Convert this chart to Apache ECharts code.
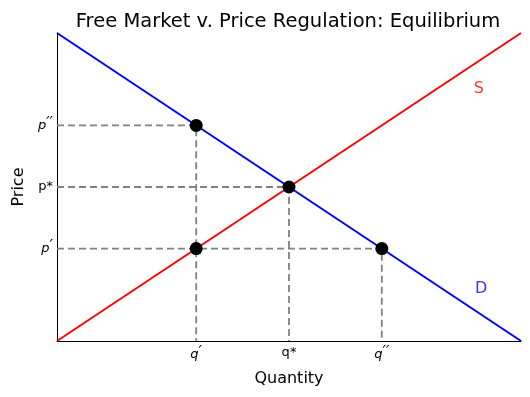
<!DOCTYPE html>
<html>
<head>
<meta charset="utf-8">
<script src="https://cdn.jsdelivr.net/npm/echarts@6/dist/echarts.min.js"></script>
<style>
  html, body { margin: 0; padding: 0; background: #fff; }
  #chart { width: 530px; height: 397px; }
</style>
</head>
<body>
<div id="chart"></div>
<script>
// data
const supplyLine = [[0, 0], [10, 10]];
const demandLine = [[0, 10], [10, 0]];
const points = [[3, 7], [5, 5], [3, 3], [7, 3]];
const guideLines = [
    [[0, 7], [3, 7], [3, 0]],
    [[0, 5], [5, 5], [5, 0]],
    [[0, 3], [7, 3], [7, 0]]
];
const xTickValues = [3, 5, 7];
const xTickLabels = ['{i|q}{pr|′}', 'q*', '{i|q}{pr|′′}'];
const yTickValues = [3, 5, 7];
const yTickLabels = ['{i|p}{pr|′}', 'p*', '{i|p}{pr|′′}'];
const curveLabels = [
    { name: 'S', pos: [9.09, 8.18], color: '#ff0000' },
    { name: 'D', pos: [9.14, 1.69], color: '#0000ff' }
];

const font = 'DejaVu Sans';
const chart = echarts.init(document.getElementById('chart'));

const labelRich = {
    i: { fontStyle: 'italic', fontFamily: font, fontSize: 13, color: '#000' },
    pr: { fontStyle: 'italic', fontFamily: font, fontSize: 15, color: '#000', padding: [0, 0, 3, 0] }
};

const guideSeries = guideLines.map(function (d) {
    return {
        type: 'line',
        data: d,
        symbol: 'none',
        z: 1,
        lineStyle: { color: '#808080', width: 1.8, type: [7, 4] }
    };
});

const option = {
    animation: false,
    textStyle: { fontFamily: font },
    title: {
        text: 'Free Market v. Price Regulation: Equilibrium',
        left: 283,
        top: 7,
        textAlign: 'center',
        textStyle: { fontFamily: font, fontSize: 19.5, fontWeight: 'normal', color: '#000' }
    },
    grid: { left: 57, right: 9, top: 33, bottom: 56 },
    xAxis: {
        type: 'value',
        min: 0,
        max: 10,
        name: 'Quantity',
        nameLocation: 'middle',
        nameGap: 30,
        nameTextStyle: { fontFamily: font, fontSize: 16, color: '#000' },
        axisLine: { lineStyle: { color: '#000', width: 1 } },
        axisTick: { show: false },
        splitLine: { show: false },
        axisLabel: {
            customValues: xTickValues,
            margin: 5,
            fontFamily: font,
            fontSize: 13,
            color: '#000',
            formatter: function (v) { return xTickLabels[xTickValues.indexOf(v)]; },
            rich: labelRich
        }
    },
    yAxis: {
        type: 'value',
        min: 0,
        max: 10,
        name: 'Price',
        nameLocation: 'middle',
        nameGap: 28,
        nameRotate: 90,
        nameTextStyle: { fontFamily: font, fontSize: 16, color: '#000' },
        axisLine: { show: true, lineStyle: { color: '#000', width: 1 } },
        axisTick: { show: false },
        splitLine: { show: false },
        axisLabel: {
            customValues: yTickValues,
            margin: 4,
            fontFamily: font,
            fontSize: 13,
            color: '#000',
            formatter: function (v) { return yTickLabels[yTickValues.indexOf(v)]; },
            rich: labelRich
        }
    },
    series: guideSeries.concat([
        {
            type: 'line',
            data: supplyLine,
            symbol: 'none',
            z: 2,
            lineStyle: { color: '#ff0000', width: 2 }
        },
        {
            type: 'line',
            data: demandLine,
            symbol: 'none',
            z: 2,
            lineStyle: { color: '#0000ff', width: 2 }
        },
        {
            type: 'scatter',
            data: points,
            symbolSize: 13,
            z: 3,
            itemStyle: { color: '#000', opacity: 1 }
        },
        {
            type: 'scatter',
            symbolSize: 0,
            z: 4,
            data: curveLabels.map(function (c) {
                return {
                    value: c.pos,
                    label: {
                        show: true,
                        position: 'inside',
                        formatter: c.name,
                        color: c.color,
                        fontFamily: font,
                        fontSize: 16
                    }
                };
            })
        }
    ])
};
chart.setOption(option);
</script>
</body>
</html>
